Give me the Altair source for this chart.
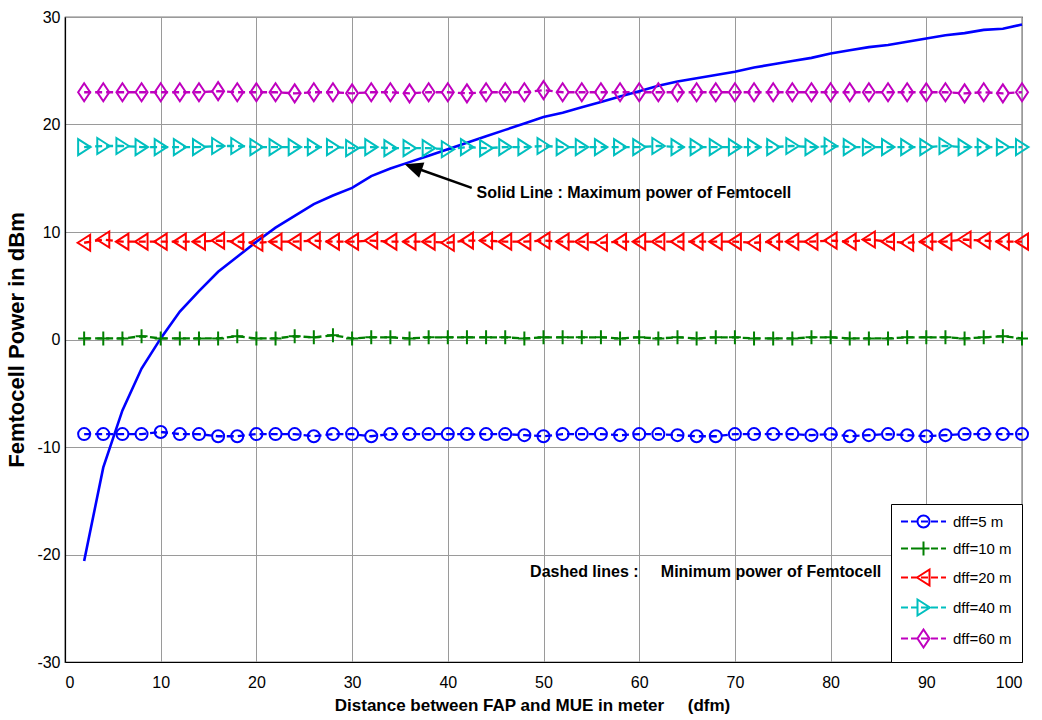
import altair as alt
import pandas as pd

# ---------------- data ----------------
dfm = list(range(2, 101, 2))

max_power = [-20.6, -11.9, -6.6, -2.7, 0.1, 2.6, 4.5, 6.3, 7.7, 9.1,
             10.4, 11.5, 12.6, 13.4, 14.1, 15.2, 15.9, 16.5, 17.1, 17.7,
             18.3, 18.9, 19.5, 20.1, 20.7, 21.1, 21.6, 22.1, 22.6, 23.1,
             23.6, 24.0, 24.3, 24.6, 24.9, 25.3, 25.6, 25.9, 26.2, 26.6,
             26.9, 27.2, 27.4, 27.7, 28.0, 28.3, 28.5, 28.8, 28.9, 29.3]

dff5 = [-8.8, -8.8, -8.8, -8.8, -8.6, -8.8, -8.8, -9.0, -9.0, -8.8,
        -8.8, -8.8, -9.0, -8.8, -8.8, -9.0, -8.8, -8.8, -8.8, -8.8,
        -8.8, -8.8, -8.8, -8.9, -9.0, -8.8, -8.8, -8.8, -8.9, -8.8,
        -8.8, -8.9, -9.0, -9.0, -8.8, -8.8, -8.8, -8.8, -8.9, -8.8,
        -9.0, -8.9, -8.8, -8.9, -9.0, -8.9, -8.8, -8.8, -8.8, -8.8]
dff10 = [0.1, 0.1, 0.1, 0.3, 0.1, 0.1, 0.1, 0.1, 0.3, 0.1,
         0.1, 0.3, 0.2, 0.4, 0.1, 0.2, 0.2, 0.1, 0.2, 0.2,
         0.2, 0.2, 0.2, 0.1, 0.2, 0.2, 0.2, 0.2, 0.1, 0.2,
         0.1, 0.2, 0.1, 0.2, 0.2, 0.1, 0.1, 0.1, 0.2, 0.2,
         0.1, 0.1, 0.1, 0.2, 0.2, 0.2, 0.1, 0.2, 0.3, 0.1]
dff20 = [9.0, 9.3, 9.1, 9.1, 9.1, 9.1, 9.1, 9.2, 9.1, 9.0,
         9.1, 9.1, 9.2, 9.1, 9.1, 9.2, 9.1, 9.1, 9.1, 9.0,
         9.2, 9.2, 9.1, 9.1, 9.2, 9.1, 9.1, 9.0, 9.1, 9.1,
         9.1, 9.1, 9.1, 9.1, 9.1, 9.0, 9.1, 9.1, 9.1, 9.2,
         9.1, 9.3, 9.1, 9.0, 9.1, 9.1, 9.3, 9.2, 9.1, 9.1]
dff40 = [17.9, 18.0, 18.0, 17.9, 17.9, 17.9, 17.9, 18.0, 18.0, 17.9,
         17.9, 17.9, 17.9, 17.9, 17.8, 17.9, 17.8, 17.8, 17.8, 17.7,
         17.9, 17.8, 17.9, 17.9, 18.0, 17.9, 17.9, 17.9, 17.9, 17.9,
         18.0, 17.9, 17.9, 17.9, 17.9, 17.9, 17.9, 18.0, 17.9, 18.0,
         17.9, 17.9, 17.9, 17.9, 17.9, 18.0, 17.9, 17.9, 17.9, 17.9]
dff60 = [23.0, 23.0, 23.0, 23.0, 23.0, 23.0, 23.0, 23.1, 23.0, 23.0,
         23.0, 22.9, 23.0, 23.0, 22.9, 23.0, 23.0, 22.9, 23.0, 23.0,
         22.9, 23.0, 23.0, 23.0, 23.2, 23.0, 23.0, 23.0, 23.0, 23.0,
         23.0, 23.0, 23.0, 23.0, 23.0, 23.0, 23.0, 23.0, 23.0, 23.0,
         23.0, 23.0, 23.0, 23.0, 23.0, 23.0, 22.9, 23.0, 22.9, 23.0]

series_names = ["dff=5 m", "dff=10 m", "dff=20 m", "dff=40 m", "dff=60 m"]
line_keys = ["line5", "line10", "line20", "line40", "line60"]
marker_names = ["circle", "plus", "tri-left", "tri-right", "diamond"]
series_values = [dff5, dff10, dff20, dff40, dff60]
series_colors = ["#0000FF", "#008000", "#FF0000", "#00BFBF", "#BF00BF"]

x_ticks = list(range(0, 101, 10))
y_ticks = list(range(-30, 31, 10))

x_title = "Distance between FAP and MUE in meter\u00a0\u00a0\u00a0\u00a0 (dfm)"
y_title = "Femtocell Power in dBm"

ann_x = [43.0, 48.6]
ann_y = [13.6, -21.6]
ann_text = ["Solid Line : Maximum power of Femtocell",
            "Dashed lines :\u00a0\u00a0\u00a0\u00a0 Minimum power of Femtocell"]

arrow_tail = [42.5, 14.1]
arrow_head = [35.5, 16.3]

# ---------------- styles ----------------
FONT = "Liberation Sans, Arial, sans-serif"

marker_paths = [
    "M6,0A6,6 0 1 1 -6,0A6,6 0 1 1 6,0",
    "M-6,0H6M0,-7V7",
    "M-6.5,0L6,-8L6,8Z",
    "M6.5,0L-6,-8L-6,8Z",
    "M0,-9L6,0L0,9L-6,0Z",
]
dash_part = "M-7.5,0H-0.5M2.5,0H9.5M12.5,0H19.5M22.5,0H29.5M32.5,0H37.5"
legend_paths = [
    dash_part + "M21,0A6,6 0 1 1 9,0A6,6 0 1 1 21,0",
    dash_part + "M9,0H21M15,-7V7",
    dash_part + "M8.5,0L21,-8L21,8Z",
    dash_part + "M21.5,0L9,-8L9,8Z",
    dash_part + "M15,-9L21,0L15,9L9,0Z",
]
sig = "".join(f"datum.value === '{n}' ? '{p}' : " for n, p in zip(series_names, legend_paths)) + "'circle'"

# ---------------- tables ----------------
rows = []
for name, lk, mk, vals in zip(series_names, line_keys, marker_names, series_values):
    for xv, yv in zip(dfm, vals):
        rows.append({"dfm": xv, "power": yv, "series": name, "line": lk, "marker": mk})
min_df = pd.DataFrame(rows)
max_df = pd.DataFrame({"dfm": dfm, "power": max_power})
ann_df = pd.DataFrame({"dfm": ann_x, "power": ann_y, "text": ann_text})
arrow_df = pd.DataFrame({"dfm": [arrow_tail[0]], "power": [arrow_tail[1]],
                         "dfm2": [arrow_head[0] + 1.0], "power2": [arrow_head[1] - 0.3]})
head_df = pd.DataFrame({"dfm": [arrow_head[0]], "power": [arrow_head[1]]})

xscale = alt.Scale(domain=[0, 100], nice=False)
yscale = alt.Scale(domain=[-30, 30], nice=False)
x_axis = alt.Axis(values=x_ticks, title=x_title, labelExpr="'' + datum.value")
y_axis = alt.Axis(values=y_ticks, title=y_title, labelExpr="'' + datum.value")


def X(field="dfm"):
    return alt.X(f"{field}:Q", scale=xscale, axis=x_axis)


def Y(field="power"):
    return alt.Y(f"{field}:Q", scale=yscale, axis=y_axis)


color_scale = alt.Scale(domain=series_names, range=series_colors)
line_scale = alt.Scale(domain=line_keys, range=series_colors)
shape_scale = alt.Scale(domain=marker_names, range=marker_paths)

dashed = alt.Chart(min_df).mark_line(strokeDash=[7, 4], strokeWidth=2.3).encode(
    x=X(), y=Y(),
    stroke=alt.Stroke("line:N", scale=line_scale, legend=None),
    detail="line:N",
)

points = alt.Chart(min_df).mark_point(filled=False, size=4, strokeWidth=2, opacity=1).encode(
    x=X(), y=Y(),
    color=alt.Color("series:N", scale=color_scale,
                    legend=alt.Legend(
                        title=None, orient="bottom-right", offset=0,
                        symbolType=alt.ExprRef(expr=sig),
                    )),
    shape=alt.Shape("marker:N", scale=shape_scale, legend=None),
)

solid = alt.Chart(max_df).mark_line(color="#0000FF", strokeWidth=2.6).encode(x=X(), y=Y())

texts = alt.Chart(ann_df).mark_text(align="left", baseline="middle", font=FONT,
                                    fontSize=16, fontWeight="bold", color="black").encode(
    x=X(), y=Y(), text="text:N")

arrow_line = alt.Chart(arrow_df).mark_rule(color="black", strokeWidth=2.5).encode(
    x=X(), y=Y(), x2="dfm2:Q", y2="power2:Q")

arrow_tip = alt.Chart(head_df).mark_point(shape="M0,0L18,-8L18,8Z", size=4, filled=True,
                                          color="black", opacity=1, angle=19).encode(
    x=X(), y=Y())

chart = alt.layer(dashed, solid, points, arrow_line, arrow_tip, texts).properties(
    width=957, height=645,
    autosize=alt.AutoSizeParams(type="none"),
    padding={"left": 65, "top": 17, "right": 20, "bottom": 58},
    background="white",
).configure_view(
    stroke="black", strokeWidth=1.2
).configure_axis(
    grid=True, gridColor="#9a9a9a", gridWidth=1, gridOpacity=1,
    domainColor="black", domainWidth=1.2,
    ticks=False,
    labelFont=FONT, labelFontSize=16, labelColor="black",
    titleColor="black", titleFontWeight="bold", titleFont=FONT,
).configure_axisX(
    labelPadding=12, titleFontSize=17, titlePadding=7,
    titleX=467, titleAnchor="middle",
).configure_axisY(
    labelPadding=5, titleFontSize=22, titlePadding=8,
).configure_legend(
    padding=10, strokeColor="black", strokeWidth=1, fillColor="white",
    labelFont=FONT, labelFontSize=15, labelColor="black", labelLimit=300,
    symbolSize=4, symbolStrokeWidth=2, symbolOffset=0, labelOffset=37,
    rowPadding=5, cornerRadius=0,
)

chart.save("out.html", embed_options={"renderer": "svg", "actions": False})
